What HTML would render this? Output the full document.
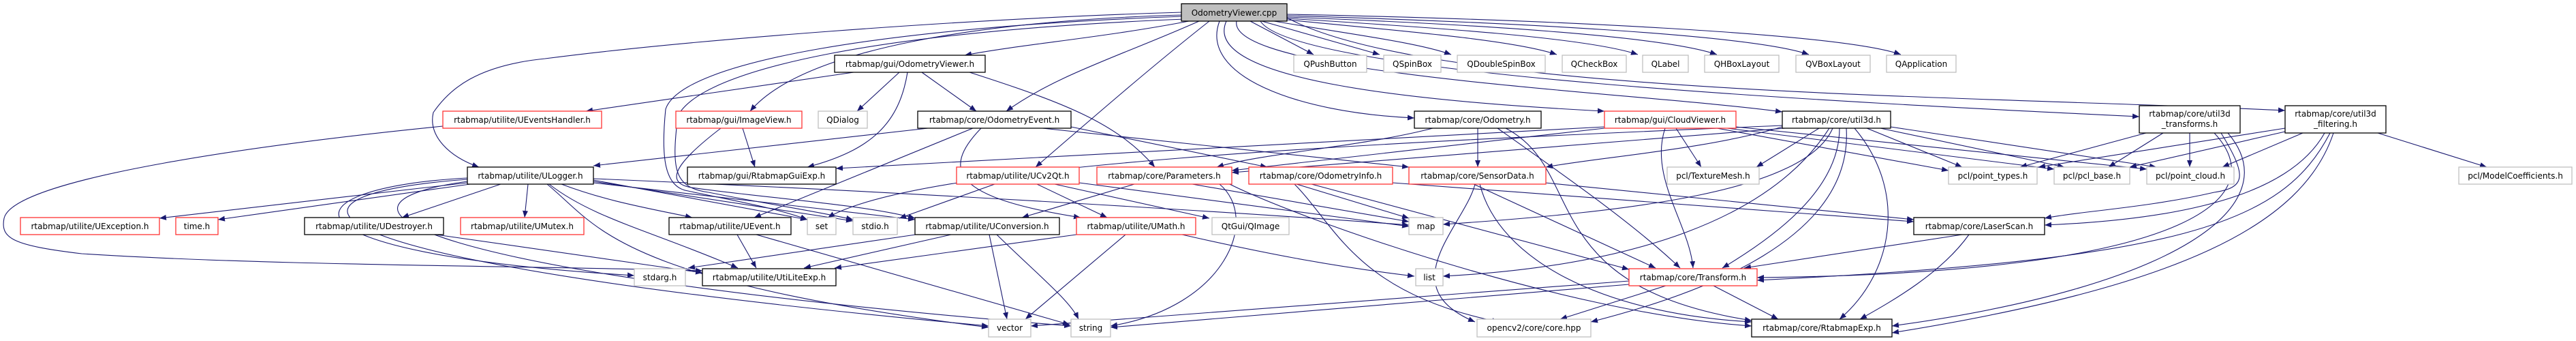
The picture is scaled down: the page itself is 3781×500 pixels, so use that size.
<!DOCTYPE html>
<html><head><meta charset="utf-8"><style>
html,body{margin:0;padding:0;background:#fff;}
svg{display:block;}
text{font-family:"DejaVu Sans","Liberation Sans",sans-serif;font-size:12px;fill:#000;}
.e{fill:none;stroke:#191970;stroke-width:1.1;marker-end:url(#a);}
.b{fill:#fff;stroke:#000;stroke-width:1.3;}
.r{fill:#fff;stroke:#ff3333;stroke-width:1.3;}
.g{fill:#fff;stroke:#bfbfbf;stroke-width:1.3;}
</style></head><body>
<svg width="3781" height="500" viewBox="0 0 3781 500" xmlns="http://www.w3.org/2000/svg">
<defs><marker id="a" markerUnits="userSpaceOnUse" markerWidth="11" markerHeight="8" refX="10" refY="4" orient="auto"><path d="M0,0 L10,4 L0,8 z" fill="#191970"/></marker></defs>
<g>
<path class="e" d="M1745,31 C1620,55 1500,65 1416,81"/>
<path class="e" d="M1735,22 C1450,30 1180,70 1101,163"/>
<path class="e" d="M1735,18 C1400,28 1000,60 800,86 C700,96 660,130 636,165 C628,200 660,230 703,245"/>
<path class="e" d="M1735,24 C1300,40 1000,90 977,160 C970,230 975,275 1010,280 C1080,295 1140,305 1185,322"/>
<path class="e" d="M1740,28 C1300,45 1030,100 995,170 C985,250 990,275 1040,282 C1130,300 1200,310 1252,322"/>
<path class="e" d="M1760,31 C1650,80 1550,110 1477,163"/>
<path class="e" d="M1775,31 C1700,90 1630,150 1520,245"/>
<path class="e" d="M1790,31 C1760,110 1900,165 2076,173"/>
<path class="e" d="M1800,31 C1760,120 2100,150 2355,163"/>
<path class="e" d="M1815,31 C1800,110 2400,135 2616,164"/>
<path class="e" d="M1850,31 C1900,110 2700,150 3140,171"/>
<path class="e" d="M1889,26 C2100,140 2900,140 3354,162"/>
<path class="e" d="M1835,31 L1928,80"/>
<path class="e" d="M1852,31 L2025,80"/>
<path class="e" d="M1870,31 C1980,50 2080,62 2130,80"/>
<path class="e" d="M1889,29 C2050,45 2220,58 2285,80"/>
<path class="e" d="M1889,27 C2100,40 2330,55 2404,80"/>
<path class="e" d="M1889,25 C2150,35 2440,52 2520,80"/>
<path class="e" d="M1889,23 C2200,32 2570,50 2655,80"/>
<path class="e" d="M1889,21 C2250,28 2700,48 2790,80"/>
<path class="e" d="M1253,106 L860,163"/>
<path class="e" d="M1320,106 L1258,163"/>
<path class="e" d="M1353,106 L1433,163"/>
<path class="e" d="M1332,106 C1320,180 1280,220 1185,245"/>
<path class="e" d="M1423,106 C1560,150 1640,180 1695,245"/>
<path class="e" d="M650,185 C400,210 20,260 6,320 C0,350 20,360 120,372 C400,390 800,390 1031,397"/>
<path class="e" d="M1090,188 L1108,245"/>
<path class="e" d="M1058,188 C990,240 975,268 1015,275 C1120,290 1270,300 1343,320"/>
<path class="e" d="M1362,188 L871,243"/>
<path class="e" d="M1428,188 L1107,319"/>
<path class="e" d="M1440,188 C1380,250 1400,290 1586,319"/>
<path class="e" d="M1530,188 L2068,245"/>
<path class="e" d="M1572,186 L1860,245"/>
<path class="e" d="M686,261 C420,275 380,370 931,404"/>
<path class="e" d="M686,263 C380,285 380,380 1451,478"/>
<path class="e" d="M686,266 C440,300 600,400 1572,478"/>
<path class="e" d="M686,268 L234,320"/>
<path class="e" d="M690,270 L320,322"/>
<path class="e" d="M735,270 L590,319"/>
<path class="e" d="M775,270 L770,319"/>
<path class="e" d="M806,270 C870,320 960,340 1083,393"/>
<path class="e" d="M803,270 C880,333 900,410 1451,480"/>
<path class="e" d="M824,270 C890,295 950,305 1016,319"/>
<path class="e" d="M871,264 L1185,322"/>
<path class="e" d="M871,266 L1252,324"/>
<path class="e" d="M871,268 L1343,322"/>
<path class="e" d="M871,262 C1300,280 1800,310 2068,330"/>
<path class="e" d="M640,344 L1031,400"/>
<path class="e" d="M1082,344 L1110,393"/>
<path class="e" d="M1110,344 L1570,476"/>
<path class="e" d="M1344,344 L1010,393"/>
<path class="e" d="M1396,344 L1180,393"/>
<path class="e" d="M1580,344 L1225,393"/>
<path class="e" d="M1452,344 L1478,468"/>
<path class="e" d="M1463,344 C1520,400 1570,440 1583,468"/>
<path class="e" d="M1652,344 L1505,468"/>
<path class="e" d="M1735,344 C1850,370 1950,390 2076,405"/>
<path class="e" d="M1460,270 L1320,320"/>
<path class="e" d="M1522,270 L1625,319"/>
<path class="e" d="M1548,270 L1775,320"/>
<path class="e" d="M1584,268 L2068,332"/>
<path class="e" d="M1665,270 L1500,319"/>
<path class="e" d="M1750,270 L2068,325"/>
<path class="e" d="M1790,270 C1850,320 1800,450 1630,478"/>
<path class="e" d="M1795,265 C1900,320 2300,460 2571,478"/>
<path class="e" d="M1903,270 L2068,320"/>
<path class="e" d="M1925,270 L2391,395"/>
<path class="e" d="M2044,268 L2809,325"/>
<path class="e" d="M1900,270 C1960,330 1990,430 2200,472"/>
<path class="e" d="M2163,270 L2430,393"/>
<path class="e" d="M2165,270 C2150,330 2040,420 2165,472"/>
<path class="e" d="M2172,270 C2200,380 2350,460 2571,472"/>
<path class="e" d="M2268,268 L2809,322"/>
<path class="e" d="M2169,188 L2169,245"/>
<path class="e" d="M2103,188 C2000,215 1850,225 1786,245"/>
<path class="e" d="M2198,188 C2300,260 2400,330 2466,393"/>
<path class="e" d="M2210,188 C2330,250 2250,420 2571,470"/>
<path class="e" d="M2460,188 L2497,245"/>
<path class="e" d="M2444,188 C2420,260 2480,330 2485,393"/>
<path class="e" d="M2355,186 L1227,247"/>
<path class="e" d="M2355,188 L1808,250"/>
<path class="e" d="M2520,188 L2860,250"/>
<path class="e" d="M2535,188 L3015,248"/>
<path class="e" d="M2548,186 L3151,248"/>
<path class="e" d="M2670,188 L2578,245"/>
<path class="e" d="M2690,188 C2650,280 2400,310 2118,329"/>
<path class="e" d="M2685,188 C2600,320 2400,390 2118,405"/>
<path class="e" d="M2700,188 C2700,280 2600,350 2528,393"/>
<path class="e" d="M2710,188 C2720,350 2500,430 2335,472"/>
<path class="e" d="M2722,188 C2800,280 2780,400 2700,468"/>
<path class="e" d="M2616,186 C2500,220 2350,230 2269,245"/>
<path class="e" d="M2620,188 L1808,253"/>
<path class="e" d="M2616,184 C2000,210 1350,240 1215,319"/>
<path class="e" d="M2740,188 L2880,245"/>
<path class="e" d="M2760,188 L3030,245"/>
<path class="e" d="M2775,186 L3165,245"/>
<path class="e" d="M3150,195 L2965,245"/>
<path class="e" d="M3175,195 L3095,245"/>
<path class="e" d="M3214,195 L3214,245"/>
<path class="e" d="M3250,195 C3330,280 3250,400 2579,407"/>
<path class="e" d="M3270,195 C3360,300 3200,420 2777,478"/>
<path class="e" d="M3260,195 C3300,260 3295,275 3250,282 C3150,305 3050,310 3001,320"/>
<path class="e" d="M3354,188 L2992,245"/>
<path class="e" d="M3354,193 L3126,245"/>
<path class="e" d="M3380,195 L3262,245"/>
<path class="e" d="M3490,195 L3650,245"/>
<path class="e" d="M3412,195 C3370,270 3250,320 3001,330"/>
<path class="e" d="M3420,195 C3350,330 3200,380 2579,411"/>
<path class="e" d="M3425,195 C3380,330 3200,420 2777,488"/>
<path class="e" d="M2880,344 L2560,393"/>
<path class="e" d="M2890,344 C2850,400 2780,440 2730,468"/>
<path class="e" d="M2445,419 L2290,468"/>
<path class="e" d="M2515,419 L2610,468"/>
<path class="e" d="M2391,412 L1513,478"/>
<path class="e" d="M2391,417 L1630,480"/>
</g>
<g>
<rect x="1734" y="5.5" width="155" height="25.5" fill="#bfbfbf" stroke="#000" stroke-width="1.3"/><text x="1811.5" y="23" text-anchor="middle">OdometryViewer.cpp</text>

<rect class="b" x="1225" y="81" width="221" height="25"/><text x="1335.5" y="98" text-anchor="middle">rtabmap/gui/OdometryViewer.h</text>
<rect class="g" x="1899" y="81" width="107" height="25"/><text x="1952.5" y="98" text-anchor="middle">QPushButton</text>
<rect class="g" x="2031" y="81" width="84" height="25"/><text x="2073" y="98" text-anchor="middle">QSpinBox</text>
<rect class="g" x="2139" y="81" width="129" height="25"/><text x="2203.5" y="98" text-anchor="middle">QDoubleSpinBox</text>
<rect class="g" x="2293" y="81" width="94" height="25"/><text x="2340" y="98" text-anchor="middle">QCheckBox</text>
<rect class="g" x="2411" y="81" width="67" height="25"/><text x="2444.5" y="98" text-anchor="middle">QLabel</text>
<rect class="g" x="2502" y="81" width="109" height="25"/><text x="2556.5" y="98" text-anchor="middle">QHBoxLayout</text>
<rect class="g" x="2636" y="81" width="109" height="25"/><text x="2690.5" y="98" text-anchor="middle">QVBoxLayout</text>
<rect class="g" x="2769" y="81" width="102" height="25"/><text x="2820" y="98" text-anchor="middle">QApplication</text>

<rect class="r" x="650" y="163" width="233" height="25"/><text x="766.5" y="180" text-anchor="middle">rtabmap/utilite/UEventsHandler.h</text>
<rect class="r" x="992" y="163" width="185" height="25"/><text x="1084.5" y="180" text-anchor="middle">rtabmap/gui/ImageView.h</text>
<rect class="g" x="1201" y="163" width="72" height="25"/><text x="1237" y="180" text-anchor="middle">QDialog</text>
<rect class="b" x="1347" y="163" width="225" height="25"/><text x="1459.5" y="180" text-anchor="middle">rtabmap/core/OdometryEvent.h</text>
<rect class="b" x="2076" y="163" width="186" height="25"/><text x="2169" y="180" text-anchor="middle">rtabmap/core/Odometry.h</text>
<rect class="r" x="2355" y="163" width="193" height="25"/><text x="2451.5" y="180" text-anchor="middle">rtabmap/gui/CloudViewer.h</text>
<rect class="b" x="2616" y="163" width="159" height="25"/><text x="2695.5" y="180" text-anchor="middle">rtabmap/core/util3d.h</text>
<rect class="b" x="3140" y="155" width="148" height="40"/><text x="3214" y="171" text-anchor="middle">rtabmap/core/util3d</text><text x="3214" y="186" text-anchor="middle">_transforms.h</text>
<rect class="b" x="3354" y="155" width="148" height="40"/><text x="3428" y="171" text-anchor="middle">rtabmap/core/util3d</text><text x="3428" y="186" text-anchor="middle">_filtering.h</text>

<rect class="b" x="686" y="245" width="185" height="25"/><text x="778.5" y="262" text-anchor="middle">rtabmap/utilite/ULogger.h</text>
<rect class="b" x="1009" y="245" width="218" height="25"/><text x="1118" y="262" text-anchor="middle">rtabmap/gui/RtabmapGuiExp.h</text>
<rect class="r" x="1404" y="245" width="180" height="25"/><text x="1494" y="262" text-anchor="middle">rtabmap/utilite/UCv2Qt.h</text>
<rect class="r" x="1610" y="245" width="198" height="25"/><text x="1709" y="262" text-anchor="middle">rtabmap/core/Parameters.h</text>
<rect class="r" x="1833" y="245" width="211" height="25"/><text x="1938.5" y="262" text-anchor="middle">rtabmap/core/OdometryInfo.h</text>
<rect class="r" x="2068" y="245" width="201" height="25"/><text x="2168.5" y="262" text-anchor="middle">rtabmap/core/SensorData.h</text>
<rect class="g" x="2447" y="245" width="135" height="25"/><text x="2514.5" y="262" text-anchor="middle">pcl/TextureMesh.h</text>
<rect class="g" x="2860" y="245" width="130" height="25"/><text x="2925" y="262" text-anchor="middle">pcl/point_types.h</text>
<rect class="g" x="3015" y="245" width="111" height="25"/><text x="3070.5" y="262" text-anchor="middle">pcl/pcl_base.h</text>
<rect class="g" x="3151" y="245" width="128" height="25"/><text x="3215" y="262" text-anchor="middle">pcl/point_cloud.h</text>
<rect class="g" x="3609" y="245" width="166" height="25"/><text x="3692" y="262" text-anchor="middle">pcl/ModelCoefficients.h</text>

<rect class="r" x="30" y="319" width="204" height="25"/><text x="132" y="336" text-anchor="middle">rtabmap/utilite/UException.h</text>
<rect class="r" x="258" y="319" width="62" height="25"/><text x="289" y="336" text-anchor="middle">time.h</text>
<rect class="b" x="447" y="319" width="204" height="25"/><text x="549" y="336" text-anchor="middle">rtabmap/utilite/UDestroyer.h</text>
<rect class="r" x="676" y="319" width="181" height="25"/><text x="766.5" y="336" text-anchor="middle">rtabmap/utilite/UMutex.h</text>
<rect class="b" x="982" y="319" width="179" height="25"/><text x="1071.5" y="336" text-anchor="middle">rtabmap/utilite/UEvent.h</text>
<rect class="g" x="1185" y="319" width="42" height="25"/><text x="1206" y="336" text-anchor="middle">set</text>
<rect class="g" x="1252" y="319" width="65" height="25"/><text x="1284.5" y="336" text-anchor="middle">stdio.h</text>
<rect class="b" x="1343" y="319" width="212" height="25"/><text x="1449" y="336" text-anchor="middle">rtabmap/utilite/UConversion.h</text>
<rect class="r" x="1580" y="319" width="175" height="25"/><text x="1667.5" y="336" text-anchor="middle">rtabmap/utilite/UMath.h</text>
<rect class="g" x="1779" y="319" width="113" height="25"/><text x="1835.5" y="336" text-anchor="middle">QtGui/QImage</text>
<rect class="g" x="2068" y="319" width="50" height="25"/><text x="2093" y="336" text-anchor="middle">map</text>
<rect class="b" x="2809" y="319" width="192" height="25"/><text x="2905" y="336" text-anchor="middle">rtabmap/core/LaserScan.h</text>

<rect class="g" x="931" y="394" width="75" height="25"/><text x="968.5" y="411" text-anchor="middle">stdarg.h</text>
<rect class="b" x="1031" y="394" width="196" height="25"/><text x="1129" y="411" text-anchor="middle">rtabmap/utilite/UtiLiteExp.h</text>
<rect class="g" x="2078" y="394" width="40" height="25"/><text x="2098" y="411" text-anchor="middle">list</text>
<rect class="r" x="2391" y="394" width="188" height="25"/><text x="2485" y="411" text-anchor="middle">rtabmap/core/Transform.h</text>

<rect class="g" x="1451" y="468" width="62" height="26"/><text x="1482" y="485" text-anchor="middle">vector</text>
<rect class="g" x="1572" y="468" width="58" height="26"/><text x="1601" y="485" text-anchor="middle">string</text>
<rect class="g" x="2168" y="468" width="167" height="26"/><text x="2251.5" y="485" text-anchor="middle">opencv2/core/core.hpp</text>
<rect class="b" x="2571" y="468" width="206" height="26"/><text x="2674" y="485" text-anchor="middle">rtabmap/core/RtabmapExp.h</text>
</g>
</svg>
</body></html>
